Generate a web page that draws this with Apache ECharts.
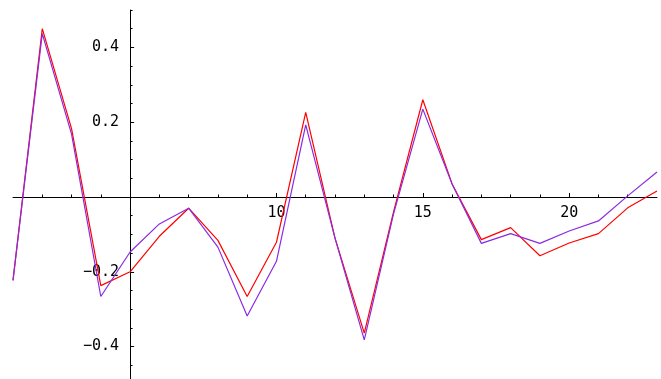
<!DOCTYPE html>
<html>
<head>
<meta charset="utf-8">
<script src="https://cdn.jsdelivr.net/npm/echarts@6/dist/echarts.min.js"></script>
<style>
  html, body { margin: 0; padding: 0; background: #fff; }
  #main { width: 661px; height: 379px; }
</style>
</head>
<body>
<div id="main"></div>
<script>
// x positions of the samples
var xs = [1, 2, 3, 4, 5, 6, 7, 8, 9, 10, 11, 12, 13, 14, 15, 16, 17, 18, 19, 20, 21, 22, 23];

// red curve
var redValues = [-0.223, 0.450, 0.183, -0.237, -0.200, -0.105, -0.030, -0.116, -0.266, -0.121,
  0.226, -0.110, -0.364, -0.040, 0.260, 0.035, -0.114, -0.082, -0.157, -0.123, -0.098, -0.029, 0.016];

// purple curve
var purpleValues = [-0.223, 0.437, 0.168, -0.266, -0.147, -0.072, -0.030, -0.134, -0.318, -0.172,
  0.193, -0.110, -0.382, -0.045, 0.235, 0.035, -0.124, -0.098, -0.124, -0.091, -0.064, 0.003, 0.067];

// tick labels
var xMajorTicks = [5, 10, 15, 20];
var xLabels = [10, 15, 20];
var yMajorTicks = [-0.4, -0.2, 0, 0.2, 0.4];
var yLabels = [-0.4, -0.2, 0.2, 0.4];

var xMinorTicks = [];
for (var i = 2; i <= 22; i++) xMinorTicks.push(i);

var X_MIN = 1, X_MAX = 23, Y_MIN = -0.5, Y_MAX = 0.5;
var AXIS_X = 5; // y轴所在的 x 值

function pairs(vals) {
  return xs.map(function (x, k) { return [x, vals[k]]; });
}

var W = 661, H = 379;
var grid = { left: 13, right: 4, top: 10, bottom: -5 };
var gridW = W - grid.left - grid.right;
var gridH = H - grid.top - grid.bottom;

// 坐标轴穿过原点附近: 用 offset 把轴线移进绘图区
var yAxisOffset = -(AXIS_X - X_MIN) / (X_MAX - X_MIN) * gridW;
var xAxisOffset = -(0 - Y_MIN) / (Y_MAX - Y_MIN) * gridH;

var tickFont = {
  fontFamily: 'DejaVu Sans Mono',
  fontSize: 15,
  color: '#000'
};

var chart = echarts.init(document.getElementById('main'));

chart.setOption({
  animation: false,
  backgroundColor: '#fff',
  grid: {
    left: grid.left,
    right: grid.right,
    top: grid.top,
    bottom: grid.bottom,
    containLabel: false,
    outerBoundsMode: 'none'
  },
  xAxis: [
    {
      //主刻度与标签
      type: 'value',
      min: X_MIN,
      max: X_MAX,
      position: 'bottom',
      offset: xAxisOffset,
      axisLine: {
        show: true,
        onZero: false,
        lineStyle: { color: '#000', width: 1 }
      },
      axisTick: {
        show: true,
        inside: true,
        length: 4,
        customValues: xMajorTicks,
        lineStyle: { color: '#000' }
      },
      axisLabel: Object.assign({
        show: true,
        margin: 9,
        customValues: xLabels
      }, tickFont),
      splitLine: { show: false }
    },
    {
      //次刻度
      type: 'value',
      min: X_MIN,
      max: X_MAX,
      position: 'bottom',
      offset: xAxisOffset,
      axisLine: { show: false, onZero: false },
      axisTick: {
        show: true,
        inside: true,
        length: 2.5,
        customValues: xMinorTicks,
        lineStyle: { color: '#000' }
      },
      axisLabel: { show: false },
      splitLine: { show: false }
    }
  ],
  yAxis: [
    {
      type: 'value',
      min: Y_MIN,
      max: Y_MAX,
      position: 'left',
      offset: yAxisOffset,
      axisLine: {
        show: true,
        onZero: false,
        lineStyle: { color: '#000', width: 1 }
      },
      axisTick: {
        show: true,
        inside: true,
        length: 4,
        customValues: yMajorTicks,
        lineStyle: { color: '#000' }
      },
      axisLabel: Object.assign({
        show: true,
        margin: 11,
        customValues: yLabels,
        formatter: function (v) {
          return v < 0 ? '\u2212' + Math.abs(v).toFixed(1) : v.toFixed(1);
        }
      }, tickFont),
      splitLine: { show: false }
    },
    {
      type: 'value',
      min: Y_MIN,
      max: Y_MAX,
      interval: 0.05,
      position: 'left',
      offset: yAxisOffset,
      axisLine: { show: false, onZero: false },
      axisTick: {
        show: true,
        inside: true,
        length: 2.5,
        lineStyle: { color: '#000' }
      },
      axisLabel: { show: false },
      splitLine: { show: false }
    }
  ],
  series: [
    {
      name: 'red',
      type: 'line',
      xAxisIndex: 0,
      yAxisIndex: 0,
      symbol: 'none',
      data: pairs(redValues),
      lineStyle: { color: '#ff0000', width: 1.2 },
      z: 3
    },
    {
      name: 'purple',
      type: 'line',
      xAxisIndex: 0,
      yAxisIndex: 0,
      symbol: 'none',
      data: pairs(purpleValues),
      lineStyle: { color: '#8a2be2', width: 1.2 },
      z: 4
    }
  ]
});
</script>
</body>
</html>
